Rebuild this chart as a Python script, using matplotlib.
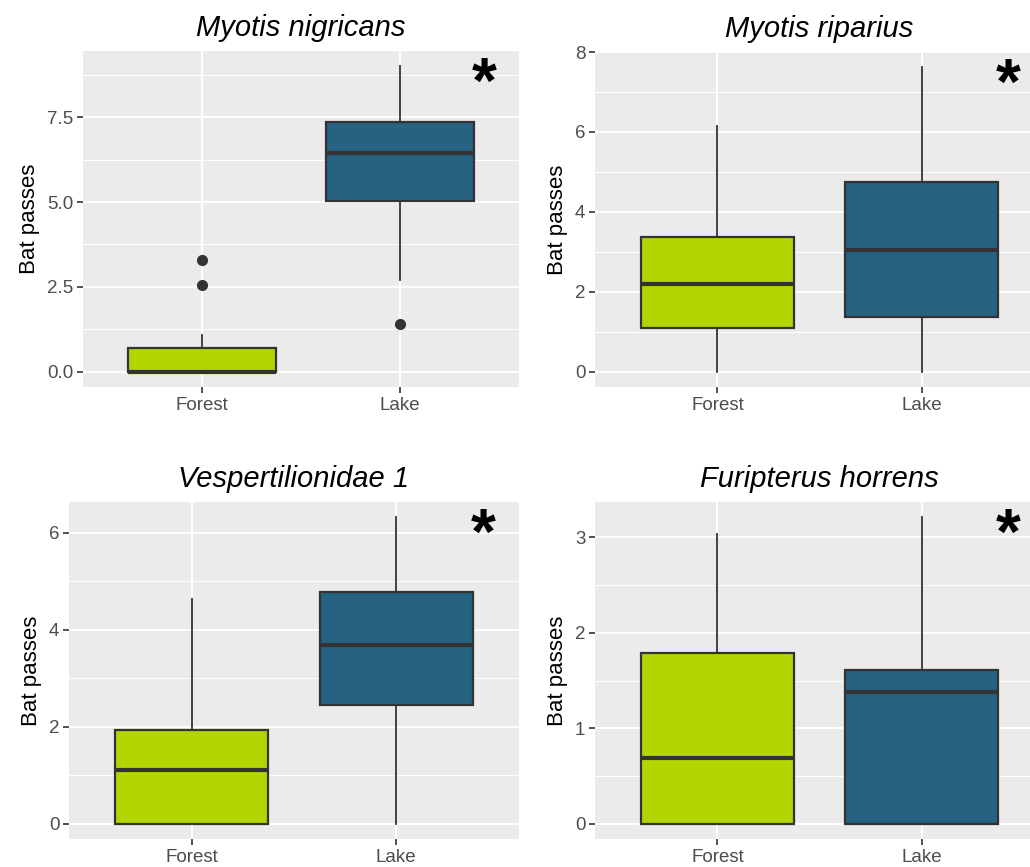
import matplotlib
matplotlib.use("Agg")
import matplotlib.pyplot as plt

# ---- data: five-number summaries per species (whislo, q1, med, q3, whishi)
species = ["Myotis nigricans", "Myotis riparius", "Vespertilionidae 1", "Furipterus horrens"]
habitats = ["Forest", "Lake"]

forest_stats = [[0.0, 0.0, 0.0, 0.70, 1.08],
                [0.0, 1.10, 2.20, 3.36, 6.16],
                [0.0, 0.0, 1.10, 1.94, 4.64],
                [0.0, 0.0, 0.69, 1.79, 3.04]]
lake_stats = [[2.70, 5.03, 6.45, 7.35, 9.00],
              [0.0, 1.38, 3.05, 4.76, 7.62],
              [0.0, 2.44, 3.69, 4.78, 6.32],
              [0.0, 0.0, 1.38, 1.61, 3.21]]
forest_outliers = [[2.55, 3.30], [], [], []]
lake_outliers = [[1.40], [], [], []]
significant = [True, True, True, True]

y_ticks = [[0, 2.5, 5, 7.5], [0, 2, 4, 6, 8], [0, 2, 4, 6], [0, 1, 2, 3]]
y_tick_labels = [["0.0", "2.5", "5.0", "7.5"], ["0", "2", "4", "6", "8"],
                 ["0", "2", "4", "6"], ["0", "1", "2", "3"]]

fill_colors = ["#B4D400", "#266281"]

plt.rcParams['font.family'] = ['Liberation Sans', 'DejaVu Sans']

W, H = 1030, 867
fig = plt.figure(figsize=(W / 100, H / 100), dpi=100)

# panel boxes in pixels: left, right, top, bottom
panels = [(83, 519, 51, 387), (595, 1044, 52, 387),
          (69, 519, 502, 839), (595, 1044, 502, 839)]


def make_stats(s, fl, label):
    return dict(whislo=s[0], q1=s[1], med=s[2], q3=s[3], whishi=s[4],
                fliers=fl, label=label)


for i, (l, r, t, b) in enumerate(panels):
    ax = fig.add_axes([l / W, 1 - b / H, (r - l) / W, (b - t) / H])
    ax.set_facecolor("#EBEBEB")
    for sp in ax.spines.values():
        sp.set_visible(False)

    stats = [make_stats(forest_stats[i], forest_outliers[i], habitats[0]),
             make_stats(lake_stats[i], lake_outliers[i], habitats[1])]
    bp = ax.bxp(stats, positions=[1, 2], widths=0.75, patch_artist=True,
                showcaps=False, zorder=3,
                boxprops=dict(edgecolor="#333333", linewidth=1.6),
                medianprops=dict(color="#333333", linewidth=3.0, solid_capstyle="butt"),
                whiskerprops=dict(color="#333333", linewidth=1.3),
                flierprops=dict(marker="o", markerfacecolor="#333333",
                                markeredgecolor="#333333", markersize=7))
    for patch, c in zip(bp["boxes"], fill_colors):
        patch.set_facecolor(c)

    # ggplot-like 5% expansion of the data range
    allv = forest_stats[i] + lake_stats[i] + forest_outliers[i] + lake_outliers[i]
    lo, hi = min(allv), max(allv)
    pad = 0.05 * (hi - lo)
    ax.set_ylim(lo - pad, hi + pad)
    ax.set_xlim(0.4, 2.6)

    ax.set_yticks(y_ticks[i])
    ax.set_yticklabels(y_tick_labels[i])
    step = y_ticks[i][1] - y_ticks[i][0]
    minors = [v + step / 2 for v in [y_ticks[i][0] - step] + y_ticks[i]]
    ax.set_yticks([m for m in minors if lo - pad < m < hi + pad], minor=True)
    ax.set_xticks([1, 2])
    ax.set_xticklabels(habitats)

    ax.grid(True, which="major", color="white", linewidth=1.4, zorder=0)
    ax.grid(True, which="minor", axis="y", color="white", linewidth=0.7, zorder=0)
    ax.set_axisbelow(True)
    ax.tick_params(axis="both", which="major", length=4, width=1.2, color="#333333",
                   labelcolor="#4D4D4D", labelsize=13.5, pad=3)
    ax.tick_params(axis="both", which="minor", length=0)

    ax.set_ylabel("Bat passes", fontsize=16, color="black", labelpad=5)
    ax.set_title(species[i], fontsize=21, style="italic", pad=11)

    if significant[i]:
        ax.text(0.92, 0.985, "*", transform=ax.transAxes, fontsize=46,
                fontweight="bold", ha="center", va="top", zorder=5)

fig.savefig("out.png", dpi=100)
